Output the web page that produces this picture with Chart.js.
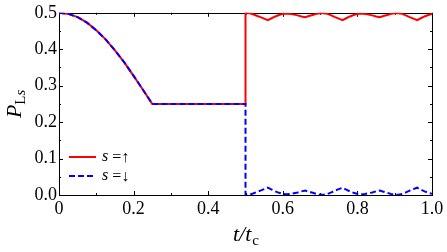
<!DOCTYPE html>
<html>
<head>
<meta charset="utf-8">
<script src="https://cdn.jsdelivr.net/npm/chart.js@4/dist/chart.umd.min.js"></script>
<style>
  html, body { margin: 0; padding: 0; background: #fff; }
  #wrap { width: 447px; height: 252px; }
</style>
</head>
<body>
<div id="wrap"><canvas id="chart" width="447" height="252"></canvas></div>
<script>
// time axis t/t_c (the jump at 0.5 shows up as a repeated point)
const tValues = [
    0, 0.025, 0.05, 0.075, 0.1, 0.125, 0.15, 0.175, 0.2, 0.225, 0.25,
    0.3, 0.35, 0.4, 0.45, 0.5, 0.5,
    0.51, 0.52, 0.53, 0.54, 0.55, 0.56, 0.57, 0.58, 0.59, 0.6,
    0.61, 0.62, 0.63, 0.64, 0.65, 0.66, 0.67, 0.68, 0.69, 0.7,
    0.71, 0.72, 0.73, 0.74, 0.75, 0.76, 0.77, 0.78, 0.79, 0.8,
    0.81, 0.82, 0.83, 0.84, 0.85, 0.86, 0.87, 0.88, 0.89, 0.9,
    0.91, 0.92, 0.93, 0.94, 0.95, 0.96, 0.97, 0.98, 0.99, 1.0
];

// P_Ls for s = up (red solid)
const upValues = [
    0.5, 0.497, 0.488, 0.473, 0.452, 0.427, 0.397, 0.364, 0.327, 0.289, 0.25,
    0.25, 0.25, 0.25, 0.25, 0.25, 0.5,
    0.499, 0.496, 0.492, 0.488, 0.484, 0.480, 0.485, 0.490, 0.494, 0.497,
    0.498, 0.497, 0.495, 0.493, 0.490, 0.488, 0.491, 0.494, 0.497, 0.499,
    0.499, 0.497, 0.493, 0.488, 0.484, 0.480, 0.485, 0.490, 0.494, 0.497,
    0.498, 0.497, 0.495, 0.493, 0.490, 0.488, 0.491, 0.494, 0.497, 0.499,
    0.499, 0.497, 0.493, 0.488, 0.484, 0.480, 0.485, 0.490, 0.494, 0.497
];

// P_Ls for s = down (blue dashed)
const downValues = [
    0.5, 0.497, 0.488, 0.473, 0.452, 0.427, 0.397, 0.364, 0.327, 0.289, 0.25,
    0.25, 0.25, 0.25, 0.25, 0.25, 0.0,
    0.001, 0.004, 0.008, 0.012, 0.016, 0.020, 0.015, 0.010, 0.006, 0.003,
    0.002, 0.003, 0.005, 0.007, 0.010, 0.012, 0.009, 0.006, 0.003, 0.001,
    0.001, 0.003, 0.007, 0.012, 0.016, 0.020, 0.015, 0.010, 0.006, 0.003,
    0.002, 0.003, 0.005, 0.007, 0.010, 0.012, 0.009, 0.006, 0.003, 0.001,
    0.001, 0.003, 0.007, 0.012, 0.016, 0.020, 0.015, 0.010, 0.006, 0.003
];

const seriesLabels = ['↑', '↓'];
const xTicks = [0, 0.2, 0.4, 0.6, 0.8, 1.0];
const yTicks = [0, 0.1, 0.2, 0.3, 0.4, 0.5];

const serif = '"Liberation Serif"';

function toPoints(ys) {
    return tValues.map((t, i) => ({ x: t, y: ys[i] }));
}

// frame, inward ticks (major + minor) on all four sides, titles, legend
const framePlugin = {
    id: 'frame',
    beforeDatasetsDraw(chart) {
        const { ctx, chartArea: a, scales } = chart;
        ctx.save();
        ctx.strokeStyle = '#000';
        ctx.lineWidth = 1;
        ctx.beginPath();
        for (let i = 0; i <= 10; i++) {
            const v = i / 10;
            const px = Math.round(scales.x.getPixelForValue(v)) + 0.5;
            const len = i % 2 === 0 ? 4 : 2;
            ctx.moveTo(px, a.bottom); ctx.lineTo(px, a.bottom - len);
            ctx.moveTo(px, a.top); ctx.lineTo(px, a.top + len);
        }
        for (let i = 0; i <= 10; i++) {
            const v = i * 0.05;
            const py = Math.round(scales.y.getPixelForValue(v)) + 0.5;
            const len = i % 2 === 0 ? 4 : 2;
            ctx.moveTo(a.left, py); ctx.lineTo(a.left + len, py);
            ctx.moveTo(a.right, py); ctx.lineTo(a.right - len, py);
        }
        ctx.stroke();
        ctx.strokeRect(Math.round(a.left) + 0.5, Math.round(a.top) + 0.5,
            Math.round(a.right - a.left), Math.round(a.bottom - a.top));
        ctx.restore();
    },
    afterDraw(chart) {
        const { ctx, chartArea: a } = chart;
        ctx.save();
        ctx.fillStyle = '#000';
        ctx.textBaseline = 'alphabetic';

        // x title: t/t_c
        const cx = (a.left + a.right) / 2;
        ctx.font = 'italic 22px ' + serif;
        const w1 = ctx.measureText('t/t').width;
        ctx.font = '15px ' + serif;
        const w2 = ctx.measureText('c').width;
        const x0 = cx - (w1 + w2) / 2;
        ctx.font = 'italic 22px ' + serif;
        ctx.fillText('t/t', x0, 241);
        ctx.font = '15px ' + serif;
        ctx.fillText('c', x0 + w1 + 1, 245);

        // y title: P_Ls, rotated
        ctx.translate(21, (a.top + a.bottom) / 2);
        ctx.rotate(-Math.PI / 2);
        ctx.font = 'italic 22px ' + serif;
        const pw = ctx.measureText('P').width;
        ctx.font = '15px ' + serif;
        const lw = ctx.measureText('L').width;
        ctx.font = 'italic 15px ' + serif;
        const sw = ctx.measureText('s').width;
        const y0 = -(pw + lw + sw) / 2;
        ctx.font = 'italic 22px ' + serif;
        ctx.fillText('P', y0, 0);
        ctx.font = '15px ' + serif;
        ctx.fillText('L', y0 + pw, 4);
        ctx.font = 'italic 15px ' + serif;
        ctx.fillText('s', y0 + pw + lw, 4);
        ctx.setTransform(1, 0, 0, 1, 0, 0);

        // legend in lower left of plot area
        const order = [0, 1];
        order.forEach(i => {
            const ds = chart.data.datasets[i];
            const ly = 157 + i * 19;
            ctx.strokeStyle = ds.borderColor;
            ctx.lineWidth = 2;
            ctx.setLineDash(ds.borderDash || []);
            ctx.beginPath();
            ctx.moveTo(a.left + 10, ly);
            ctx.lineTo(a.left + 37, ly);
            ctx.stroke();
            ctx.setLineDash([]);
            ctx.font = 'italic 16px ' + serif;
            ctx.fillText('s', a.left + 43, ly + 4);
            const sW = ctx.measureText('s ').width;
            ctx.font = '16px ' + serif;
            ctx.fillText('=' + seriesLabels[i], a.left + 43 + sW, ly + 5);
        });
        ctx.restore();
    }
};

new Chart(document.getElementById('chart'), {
    type: 'line',
    data: {
        datasets: [
            {
                label: 's = ↑',
                data: toPoints(upValues),
                borderColor: '#ff0000',
                borderWidth: 2,
                pointRadius: 0,
                tension: 0,
                fill: false,
                order: 2
            },
            {
                label: 's = ↓',
                data: toPoints(downValues),
                borderColor: '#0000ff',
                borderWidth: 2,
                borderDash: [6, 3],
                pointRadius: 0,
                tension: 0,
                fill: false,
                order: 1
            }
        ]
    },
    options: {
        responsive: false,
        animation: false,
        events: [],
        layout: { padding: { top: 11, right: 15, left: 0, bottom: 0 } },
        plugins: {
            legend: { display: false },
            tooltip: { enabled: false }
        },
        scales: {
            x: {
                type: 'linear',
                min: 0,
                max: 1,
                afterFit(scale) { scale.height = 57; },
                afterBuildTicks(scale) { scale.ticks = xTicks.map(v => ({ value: v })); },
                grid: { display: false, drawTicks: false },
                border: { display: false },
                ticks: {
                    autoSkip: false,
                    maxRotation: 0,
                    padding: 3,
                    color: '#000',
                    font: { family: serif, size: 18 },
                    callback: v => (v === 0 ? '0' : v.toFixed(1))
                }
            },
            y: {
                min: 0,
                max: 0.5,
                afterFit(scale) { scale.width = 59; },
                afterBuildTicks(scale) { scale.ticks = yTicks.map(v => ({ value: v })); },
                grid: { display: false, drawTicks: false },
                border: { display: false },
                ticks: {
                    autoSkip: false,
                    padding: 2,
                    color: '#000',
                    font: { family: serif, size: 18 },
                    callback: v => v.toFixed(1)
                }
            }
        }
    },
    plugins: [framePlugin]
});
</script>
</body>
</html>
